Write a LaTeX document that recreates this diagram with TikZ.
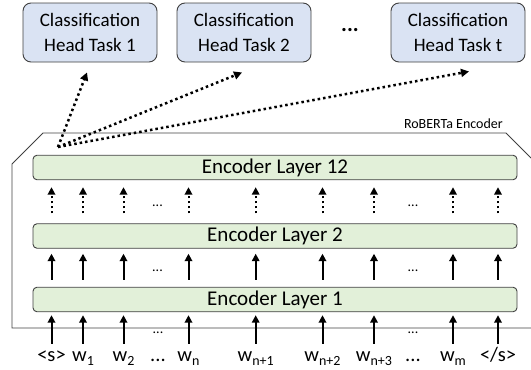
\documentclass[tikz,border=0pt]{standalone}
\usepackage{fontspec}
\setmainfont{Carlito}
\usetikzlibrary{arrows.meta}
\definecolor{headfill}{HTML}{DAE3F3}
\definecolor{layerfill}{HTML}{E2F0D9}
\definecolor{edgec}{HTML}{404040}
\newcommand{\sbs}[1]{\raisebox{-4.5pt}{\fontsize{14}{14}\selectfont #1}}
\begin{document}
\begin{tikzpicture}[x=1pt,y=-1pt,
  head/.style={draw=edgec, line width=0.9pt, fill=headfill, rounded corners=8pt,
    minimum width=134pt, minimum height=59pt, align=center, inner sep=0pt,
    font=\fontsize{19}{25}\selectfont},
  layer/.style={draw=edgec, line width=0.9pt, fill=layerfill, rounded corners=4pt,
    minimum width=484pt, minimum height=24.5pt, inner sep=0pt,
    font=\fontsize{21}{24}\selectfont},
  tok/.style={anchor=base, inner sep=0pt, font=\fontsize{20.5}{22}\selectfont, text height=12pt},
  rowdots/.style={inner sep=0pt, font=\fontsize{14}{14}\selectfont},
  arr/.style={line width=2pt, -{Triangle[length=7.5pt,width=7.5pt]}},
  darr/.style={arr, dash pattern=on 2pt off 3pt},
  harr/.style={line width=2.5pt, dash pattern=on 2.5pt off 3pt, -{Triangle[length=8pt,width=8pt]}},
  outline/.style={draw=edgec, line width=0.9pt}
]
\useasboundingbox (0,0) rectangle (531,370);

% heads
\node[head] (h1) at (90,32.5) {Classification\\Head Task 1};
\node[head] (h2) at (244,32.5) {Classification\\Head Task 2};
\node[head] (ht) at (458,32.5) {Classification\\Head Task t};
\node[inner sep=0pt, font=\fontsize{22}{22}\selectfont\bfseries] (hd) at (350,30) {...};

% encoder outline
\draw[outline] (531,158) -- (506,133) -- (43,133) -- (12,164) -- (12,328) -- (531,328);
\node[anchor=east, inner sep=0pt, font=\fontsize{14}{14}\selectfont] (lbl) at (503,124) {RoBERTa Encoder};

% layers
\node[layer] (L12) at (275,167.5) {Encoder Layer 12};
\node[layer] (L2) at (275,236) {Encoder Layer 2};
\node[layer] (L1) at (275,299.5) {Encoder Layer 1};

% tokens
\node[tok] (t1) at (51.5,361) {<s>};
\node[tok] (t2) at (83,361) {w\sbs{1}};
\node[tok] (t3) at (123.5,361) {w\sbs{2}};
\node[tok] (t4) at (188.5,361) {w\sbs{n}};
\node[tok] (t5) at (255.7,361) {w\sbs{n+1}};
\node[tok] (t6) at (322.5,361) {w\sbs{n+2}};
\node[tok] (t7) at (374,361) {w\sbs{n+3}};
\node[tok] (t8) at (453,361) {w\sbs{m}};
\node[tok] (t9) at (498,361) {</s>};
\node[tok] (td1) at (158,361) {...};
\node[tok] (td2) at (413,361) {...};

% row dots
\node[rowdots] (d1a) at (158,333) {...};
\node[rowdots] (d1b) at (413,333) {...};
\node[rowdots] (d2a) at (157.5,271) {...};
\node[rowdots] (d2b) at (413,271) {...};
\node[rowdots] (d3a) at (157.5,206) {...};
\node[rowdots] (d3b) at (413,206) {...};

% arrows
\foreach \i in {1,...,9}{
  \draw[arr] ([yshift=5pt]t\i.north) -- ([yshift=-3pt]t\i.north |- L1.south);
  \draw[arr] ([yshift=7pt]t\i.north |- L1.north) -- ([yshift=-5pt]t\i.north |- L2.south);
  \draw[darr] ([yshift=10pt]t\i.north |- L2.north) -- ([yshift=-7pt]t\i.north |- L12.south);
}

% to heads
\coordinate (s) at (58,147);
\draw[harr] (s) -- ([xshift=-3pt,yshift=-10pt]h1.south);
\draw[harr] (s) -- ([xshift=-2pt,yshift=-10pt]h2.south);
\draw[harr] (s) -- ([xshift=11pt,yshift=-9pt]ht.south);
\end{tikzpicture}
\end{document}
